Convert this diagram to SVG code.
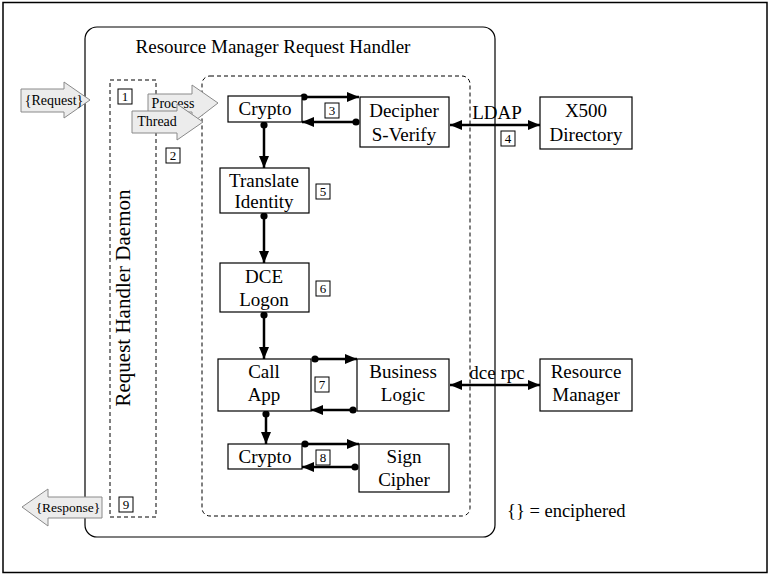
<svg xmlns="http://www.w3.org/2000/svg" width="772" height="577" viewBox="0 0 772 577">
<style>
text{font-family:"Liberation Serif","Times New Roman",serif;fill:#000}
.t{font-size:19px;text-anchor:middle}
.n{font-size:13px;text-anchor:middle}
.box{fill:#fff;stroke:#000;stroke-width:1.2}
.nb{fill:#fff;stroke:#000;stroke-width:1}
.dash{fill:none;stroke:#000;stroke-width:1;stroke-dasharray:4,3}
.blk{fill:#ececec;stroke:#8a8a8a;stroke-width:1}
.c{stroke:#000;stroke-width:2.5;fill:none}
</style>
<defs>
<marker id="ah" viewBox="0 0 12 10" refX="12" refY="5" markerWidth="12" markerHeight="10" markerUnits="userSpaceOnUse" orient="auto-start-reverse"><path d="M0,0 L12,5 L0,10 Z" fill="#000"/></marker>
<marker id="dot" viewBox="0 0 8 8" refX="4" refY="4" markerWidth="8" markerHeight="8" markerUnits="userSpaceOnUse"><circle cx="4" cy="4" r="3.6" fill="#000"/></marker>
</defs>
<rect x="0" y="0" width="772" height="577" fill="#fff"/>
<rect id="frame" x="3" y="2.5" width="764" height="570" fill="none" stroke="#000" stroke-width="1.5"/>
<g id="handler">
<rect x="85" y="27" width="410" height="510" rx="12" fill="none" stroke="#000" stroke-width="1.2"/>
<text class="t" x="273" y="53">Resource Manager Request Handler</text>
</g>
<g id="thread-area"><rect class="dash" x="202" y="76" width="268" height="440" rx="8"/></g>
<g id="daemon">
<rect class="dash" x="110" y="80" width="46" height="437"/>
<text x="123" y="298" font-size="21" text-anchor="middle" transform="rotate(-90 123 298)" dy="7">Request Handler Daemon</text>
</g>
<g id="request">
<path class="blk" d="M21,89 H64 V82 L90,100 L64,118 V112 H21 Z"/>
<text x="54" y="105" font-size="14" text-anchor="middle">{Request}</text>
</g>
<g id="process">
<path class="blk" d="M148,94 H192 V85 L218,103 L192,123 V112 H148 Z"/>
<text x="173" y="108" font-size="14" text-anchor="middle">Process</text>
</g>
<g id="thread">
<path class="blk" d="M132,111 H177 V104 L203,122 L177,140 V133 H132 Z"/>
<text x="157" y="126" font-size="14" text-anchor="middle">Thread</text>
</g>
<g id="response">
<path class="blk" d="M22,507 L48,489 V497 H102 V518 H48 V526 Z"/>
<text x="68" y="512" font-size="13.5" text-anchor="middle">{Response}</text>
</g>
<g id="connectors">
<line class="c" x1="304" y1="97" x2="359" y2="97" marker-start="url(#dot)" marker-end="url(#ah)"/>
<line class="c" x1="356" y1="122" x2="302" y2="122" marker-start="url(#dot)" marker-end="url(#ah)"/>
<line class="c" x1="450" y1="125" x2="540" y2="125" marker-start="url(#ah)" marker-end="url(#ah)"/>
<line class="c" x1="264" y1="125" x2="264" y2="168" marker-start="url(#dot)" marker-end="url(#ah)"/>
<line class="c" x1="264" y1="216" x2="264" y2="263" marker-start="url(#dot)" marker-end="url(#ah)"/>
<line class="c" x1="264" y1="315" x2="264" y2="359" marker-start="url(#dot)" marker-end="url(#ah)"/>
<line class="c" x1="315" y1="359" x2="357" y2="359" marker-start="url(#dot)" marker-end="url(#ah)"/>
<line class="c" x1="353" y1="410" x2="311" y2="410" marker-start="url(#dot)" marker-end="url(#ah)"/>
<line class="c" x1="266" y1="414" x2="266" y2="444" marker-start="url(#dot)" marker-end="url(#ah)"/>
<line class="c" x1="305" y1="444" x2="359" y2="444" marker-start="url(#dot)" marker-end="url(#ah)"/>
<line class="c" x1="355" y1="467" x2="302" y2="467" marker-start="url(#dot)" marker-end="url(#ah)"/>
<line class="c" x1="450" y1="385" x2="540" y2="385" marker-start="url(#ah)" marker-end="url(#ah)"/>
</g>
<g id="crypto1"><rect class="box" x="228" y="96" width="74" height="26"/><text class="t" x="265" y="115">Crypto</text></g>
<g id="decipher"><rect class="box" x="360" y="97" width="89" height="50"/><text class="t" x="404" y="117">Decipher</text><text class="t" x="404" y="141">S-Verify</text></g>
<g id="x500"><rect class="box" x="540" y="97" width="92" height="52"/><text class="t" x="586" y="117">X500</text><text class="t" x="586" y="141">Directory</text></g>
<g id="translate"><rect class="box" x="220" y="168" width="89" height="45"/><text class="t" x="264" y="187">Translate</text><text class="t" x="264" y="208">Identity</text></g>
<g id="dcelogon"><rect class="box" x="220" y="263" width="89" height="49"/><text class="t" x="264" y="283">DCE</text><text class="t" x="264" y="306">Logon</text></g>
<g id="callapp"><rect class="box" x="218" y="359" width="93" height="52"/><text class="t" x="264" y="378">Call</text><text class="t" x="264" y="401">App</text></g>
<g id="business"><rect class="box" x="357" y="359" width="92" height="52"/><text class="t" x="403" y="378">Business</text><text class="t" x="403" y="401">Logic</text></g>
<g id="resmgr"><rect class="box" x="540" y="359" width="92" height="52"/><text class="t" x="586" y="378">Resource</text><text class="t" x="586" y="401">Manager</text></g>
<g id="crypto2"><rect class="box" x="228" y="444" width="74" height="25"/><text class="t" x="265" y="463">Crypto</text></g>
<g id="sign"><rect class="box" x="359" y="444" width="90" height="48"/><text class="t" x="404" y="463">Sign</text><text class="t" x="404" y="486">Cipher</text></g>
<g id="ldap"><text class="t" x="497" y="119">LDAP</text></g>
<g id="dcerpc"><text class="t" x="497" y="379">dce rpc</text></g>
<g id="n1"><rect class="nb" x="118" y="89" width="14" height="15"/><text class="n" x="125" y="101">1</text></g>
<g id="n2"><rect class="nb" x="166" y="148" width="14" height="15"/><text class="n" x="173" y="160">2</text></g>
<g id="n3"><rect class="nb" x="325" y="103" width="14" height="15"/><text class="n" x="332" y="115">3</text></g>
<g id="n4"><rect class="nb" x="501" y="131" width="14" height="15"/><text class="n" x="508" y="143">4</text></g>
<g id="n5"><rect class="nb" x="316" y="184" width="14" height="15"/><text class="n" x="323" y="196">5</text></g>
<g id="n6"><rect class="nb" x="316" y="281" width="14" height="15"/><text class="n" x="323" y="293">6</text></g>
<g id="n7"><rect class="nb" x="315" y="377" width="14" height="15"/><text class="n" x="322" y="389">7</text></g>
<g id="n8"><rect class="nb" x="316" y="450" width="14" height="15"/><text class="n" x="323" y="462">8</text></g>
<g id="n9"><rect class="nb" x="119" y="497" width="14" height="15"/><text class="n" x="126" y="509">9</text></g>
<g id="legend"><text x="507" y="517" font-size="18.5">{} = enciphered</text></g>
</svg>
